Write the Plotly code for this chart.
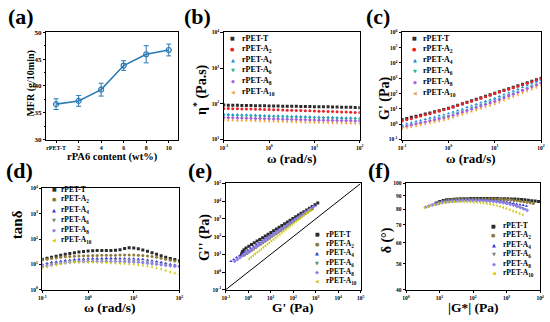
import plotly.graph_objects as go

SERIF = "'Liberation Serif', 'Times New Roman', Times, serif"
W, H = 550, 322
def PX(x): return x / W
def PY(y): return 1 - y / H

# ---------------- data ----------------
# (a) melt flow rate
mfr_labels = ["rPET-T", "2", "4", "6", "8", "10"]
mfr_values = [36.6, 37.2, 39.3, 43.8, 45.9, 46.7]
mfr_err = [1.0, 1.0, 1.2, 0.9, 1.6, 1.1]

series_names = ["rPET-T", "rPET-A<sub>2</sub>", "rPET-A<sub>4</sub>", "rPET-A<sub>6</sub>",
                "rPET-A<sub>8</sub>", "rPET-A<sub>10</sub>"]

omega = [0.1, 0.126, 0.158, 0.2, 0.251, 0.316, 0.398, 0.501, 0.631, 0.794, 1.0, 1.26, 1.58, 2.0,
         2.51, 3.16, 3.98, 5.01, 6.31, 7.94, 10.0, 12.6, 15.8, 20.0, 25.1, 31.6, 39.8, 50.1, 63.1,
         79.4, 100.0]

# (b) complex viscosity
eta_T = [92, 91.5, 91, 90.5, 90, 89.5, 89, 88.5, 88, 87.6, 87.2, 86.8, 86.4, 86, 85.6, 85.2, 84.8, 84.4, 84, 83.6, 83.2, 82.8, 82.4, 82, 81.5, 81, 80.5, 80, 79.5, 79, 78]
eta_A2 = [74, 73.5, 73, 72.5, 72, 71.5, 71, 70.5, 70, 69.4, 68.8, 68.2, 67.6, 67, 66.4, 65.8, 65.2, 64.6, 64, 63.4, 62.8, 62.2, 61.6, 61, 60.4, 59.8, 59.2, 58.6, 58, 57.5, 57]
eta_A4 = [51, 50.6, 50.2, 49.8, 49.4, 49, 48.6, 48.2, 47.8, 47.4, 47, 46.6, 46.2, 45.8, 45.4, 45, 44.6, 44.2, 43.8, 43.4, 43, 42.6, 42.3, 42, 41.7, 41.4, 41.1, 40.8, 40.5, 40.2, 40]
eta_A6 = [47, 46.7, 46.3, 46, 45.6, 45.3, 44.9, 44.6, 44.2, 43.9, 43.5, 43.2, 42.8, 42.5, 42.1, 41.8, 41.4, 41.1, 40.7, 40.4, 40, 39.7, 39.4, 39.1, 38.8, 38.5, 38.2, 37.9, 37.6, 37.3, 37]
eta_A8 = [41, 40.7, 40.4, 40.1, 39.8, 39.5, 39.2, 38.9, 38.6, 38.3, 38, 37.7, 37.4, 37.1, 36.8, 36.5, 36.2, 35.9, 35.6, 35.3, 35, 34.8, 34.6, 34.4, 34.2, 34, 33.8, 33.6, 33.4, 33.2, 33]
eta_A10 = [35, 34.8, 34.5, 34.3, 34, 33.8, 33.5, 33.3, 33, 32.8, 32.5, 32.3, 32, 31.8, 31.5, 31.3, 31, 30.8, 30.5, 30.3, 30, 29.8, 29.6, 29.4, 29.2, 29, 28.8, 28.6, 28.3, 28, 27.5]

# (c) storage modulus
gp_T = [2.0, 2.4, 2.8, 3.3, 3.9, 4.6, 5.5, 6.5, 7.7, 9.2, 11, 13.7, 17.2, 21.6, 27, 34, 42.5, 53, 67, 84, 105, 131, 164, 206, 257, 320, 400, 500, 630, 790, 1000]
gp_A2 = [1.6, 1.93, 2.3, 2.8, 3.4, 4.1, 4.9, 6.0, 7.2, 8.7, 10.5, 13, 16.4, 20.5, 25.7, 32, 40, 50, 63, 79, 100, 125, 156, 195, 244, 305, 380, 475, 595, 745, 930]
gp_A4 = [0.89, 1.06, 1.26, 1.5, 1.78, 2.11, 2.51, 2.99, 3.55, 4.22, 5.01, 6.3, 7.9, 10, 12.6, 15.8, 20, 25.1, 31.6, 39.8, 50.1, 65.7, 86.1, 113, 148, 194, 254, 333, 437, 572, 750]
gp_A6 = [0.6, 0.72, 0.86, 1.03, 1.23, 1.47, 1.76, 2.1, 2.52, 3.01, 3.6, 4.55, 5.77, 7.3, 9.25, 11.7, 14.8, 18.7, 23.7, 30.1, 38, 49.2, 63.7, 82.4, 107, 138, 179, 231, 299, 387, 501]
gp_A8 = [0.65, 0.75, 0.88, 1.03, 1.2, 1.4, 1.63, 1.9, 2.22, 2.59, 3.02, 3.8, 4.79, 6.03, 7.59, 9.55, 12, 15.1, 19.1, 24, 30.2, 39.8, 52.5, 69.2, 91.2, 120, 158, 209, 275, 363, 479]
gp_A10 = [0.5, 0.58, 0.67, 0.78, 0.9, 1.05, 1.21, 1.41, 1.63, 1.89, 2.19, 2.74, 3.44, 4.31, 5.4, 6.76, 8.47, 10.6, 13.3, 16.7, 20.9, 27.5, 36.3, 47.9, 63.1, 83.2, 110, 145, 191, 251, 331]

# (d) loss tangent
td_T = [16, 17.5, 19, 21, 23, 25, 27, 29, 31, 32.5, 34, 34.5, 35, 35, 35, 35, 36, 38, 42, 45, 44, 41, 37, 33, 29, 25, 22, 19, 17, 15.5, 14]
td_A2 = [15, 16, 17, 18, 19, 20, 20.5, 21, 21.5, 22, 22, 22.5, 22.5, 23, 23, 23, 23, 23.5, 23.5, 23.5, 23.5, 23, 22.5, 21.5, 20.5, 19, 17.5, 16, 14.5, 13.5, 12.5]
td_A4 = [10, 11, 12, 12.8, 13.5, 14.2, 15, 15.5, 16, 16.3, 16.6, 17, 17, 17.2, 17.3, 17.3, 17.3, 17.2, 17, 16.8, 16.6, 16.2, 15.8, 15, 14, 13, 12, 11, 10, 9.5, 9]
td_A6 = [9, 10, 10.8, 11.5, 12.2, 12.8, 13.3, 13.8, 14.2, 14.4, 14.5, 14.7, 14.8, 14.8, 14.8, 14.8, 14.7, 14.6, 14.5, 14.3, 14, 13.6, 13, 12.4, 11.8, 11.1, 10.4, 9.8, 9.3, 9, 8.8]
td_A8 = [8, 8.8, 9.6, 10.3, 11, 11.6, 12.1, 12.5, 12.8, 13, 13, 13.1, 13.1, 13.1, 13, 13, 12.9, 12.8, 12.7, 12.5, 12.3, 12, 11.6, 11.1, 10.6, 10.1, 9.6, 9.1, 8.7, 8.3, 8]
td_A10 = [7, 7.8, 8.6, 9.4, 10.2, 11, 11.6, 12, 12.2, 12.2, 12.1, 12, 11.9, 11.7, 11.5, 11.3, 11.1, 10.9, 10.6, 10.3, 10, 9.5, 9, 8.4, 7.8, 7.1, 6.4, 5.7, 5, 4.5, 4]

# (e) Cole-Cole: G' (x) and G'' (y)
ce_gp_T = [0.5, 0.52, 0.56, 0.65, 0.8, 1.06, 1.4, 1.86, 2.47, 3.27, 4.34, 5.75, 7.63, 10.1, 13.4, 17.8, 23.6, 31.3, 41.5, 55, 73, 96.8, 128, 170, 225, 299, 396, 526, 697, 925, 1230]
ce_gpp_T = [9.2, 11.5, 14.4, 18.1, 22.6, 28.3, 35.4, 44.3, 55.5, 69.5, 87.2, 109, 137, 172, 215, 269, 338, 423, 530, 664, 832, 1043, 1302, 1640, 2046, 2560, 3204, 4008, 5016, 6273, 7800]
ce_gp_A2 = [0.7, 0.88, 1.11, 1.4, 1.76, 2.21, 2.79, 3.51, 4.42, 5.56, 7.0, 8.81, 11.1, 14.0, 17.6, 22.1, 27.9, 35.1, 44.2, 55.6, 70, 88.1, 111, 140, 176, 221, 279, 351, 442, 556, 700]
ce_gpp_A2 = [9, 11, 13.5, 16.4, 20.1, 24.5, 29.9, 36.6, 44.7, 54.6, 66.7, 81.4, 99.5, 122, 149, 181, 222, 271, 331, 404, 493, 603, 736, 899, 1098, 1341, 1638, 2000, 2443, 2984, 3645]
ce_gp_A4 = [0.17, 0.227, 0.303, 0.405, 0.54, 0.72, 0.96, 1.29, 1.72, 2.29, 3.06, 4.09, 5.46, 7.29, 9.73, 13.0, 17.3, 23.1, 30.9, 41.2, 55.0, 73.4, 98.0, 131, 175, 233, 311, 416, 555, 741, 989]
ce_gpp_A4 = [4, 5.1, 6.5, 8.3, 10.5, 13.4, 17.1, 21.8, 27.8, 35.4, 45.1, 57.5, 73.3, 93.4, 119, 152, 193, 246, 314, 400, 510, 650, 828, 1055, 1345, 1714, 2184, 2783, 3547, 4520, 5760]
ce_gp_A6 = [0.6, 0.755, 0.95, 1.2, 1.51, 1.9, 2.39, 3.01, 3.79, 4.77, 6.0, 7.55, 9.5, 12.0, 15.1, 19.0, 23.9, 30.1, 37.9, 47.7, 60, 75.5, 95, 120, 151, 190, 239, 301, 379, 477, 600]
ce_gpp_A6 = [9, 11, 13.8, 16.3, 19.9, 24.2, 29.5, 35.9, 43.7, 53.2, 64.8, 78.9, 96.1, 117, 143, 174, 211, 257, 313, 382, 465, 566, 689, 839, 1022, 1245, 1516, 1846, 2248, 2737, 3333]
ce_gp_A8 = [0.25, 0.327, 0.428, 0.56, 0.733, 0.96, 1.26, 1.64, 2.15, 2.82, 3.68, 4.82, 6.31, 8.25, 10.8, 14.1, 18.5, 24.2, 31.6, 41.4, 54.1, 70.8, 92.7, 121, 159, 208, 272, 356, 466, 610, 798]
ce_gpp_A8 = [4, 5.1, 6.4, 8.1, 10.3, 13.0, 16.5, 20.9, 26.5, 33.5, 42.5, 53.8, 68.1, 86.3, 109, 138, 175, 222, 281, 356, 451, 571, 723, 916, 1160, 1469, 1861, 2357, 2985, 3781, 4789]
ce_gp_A10 = [1.1, 1.35, 1.67, 2.05, 2.53, 3.11, 3.83, 4.72, 5.81, 7.16, 8.81, 10.8, 13.4, 16.5, 20.3, 25.0, 30.7, 37.8, 46.6, 57.4, 70.6, 87.0, 107, 132, 162, 200, 246, 303, 373, 460, 566]
ce_gpp_A10 = [5.5, 6.8, 8.4, 10.3, 12.8, 15.8, 19.5, 24.1, 29.7, 36.7, 45.3, 55.9, 69.0, 85.2, 105, 130, 160, 198, 244, 302, 372, 460, 567, 700, 865, 1067, 1318, 1627, 2008, 2479, 3061]
equality_line = [0.1, 100000]

# (f) van Gurp-Palmen: |G*| (x) and phase angle (y)
vg_gs_T = [8, 10.1, 12.8, 16.2, 20.4, 25.8, 32.6, 41.2, 52.1, 65.8, 83.2, 105, 133, 168, 212, 268, 339, 429, 542, 685, 866, 1095, 1384, 1749, 2211, 2795, 3533, 4466, 5645, 7135, 9020]
vg_d_T = [84.5, 85.5, 86.3, 86.8, 87.1, 87.3, 87.5, 87.6, 87.7, 87.7, 87.8, 87.8, 87.8, 87.8, 87.8, 87.8, 87.8, 87.8, 87.8, 87.7, 87.7, 87.6, 87.5, 87.4, 87.2, 87.0, 86.8, 86.5, 86.2, 85.9, 85.5]
vg_gs_A2 = [8.5, 10.6, 13.2, 16.5, 20.5, 25.6, 31.9, 39.8, 49.6, 61.8, 77.0, 96, 120, 149, 186, 232, 289, 360, 449, 560, 698, 870, 1084, 1351, 1684, 2099, 2616, 3261, 4064, 5066, 6314]
vg_d_A2 = [84, 85, 85.8, 86.3, 86.7, 87, 87.2, 87.3, 87.4, 87.4, 87.5, 87.5, 87.5, 87.5, 87.5, 87.5, 87.5, 87.4, 87.4, 87.3, 87.2, 87.1, 86.9, 86.7, 86.4, 86.1, 85.8, 85.4, 85, 84.6, 84.2]
vg_gs_A4 = [4.5, 5.64, 7.07, 8.86, 11.1, 13.9, 17.4, 21.9, 27.4, 34.3, 43.0, 53.9, 67.5, 84.6, 106, 133, 167, 209, 262, 328, 411, 515, 645, 809, 1013, 1270, 1591, 1994, 2499, 3131, 3924]
vg_d_A4 = [82, 83, 84, 84.8, 85.4, 85.9, 86.2, 86.5, 86.7, 86.8, 86.9, 87, 87, 87, 87, 87, 86.9, 86.8, 86.7, 86.6, 86.4, 86.2, 85.9, 85.6, 85.2, 84.8, 84.3, 83.8, 83.3, 82.8, 82.3]
vg_gs_A6 = [8, 9.8, 12.0, 14.7, 18.0, 22.1, 27.1, 33.2, 40.7, 49.9, 61.2, 75.0, 92.0, 113, 138, 169, 208, 255, 312, 383, 469, 575, 705, 865, 1060, 1300, 1594, 1954, 2396, 2937, 3601]
vg_d_A6 = [83.5, 84.5, 85.2, 85.7, 86, 86.2, 86.4, 86.5, 86.6, 86.6, 86.6, 86.6, 86.6, 86.6, 86.5, 86.5, 86.4, 86.3, 86.2, 86, 85.8, 85.5, 85.2, 84.8, 84.3, 83.8, 83.2, 82.5, 81.8, 81, 80.2]
vg_gs_A8 = [3.8, 4.8, 6.06, 7.65, 9.65, 12.2, 15.4, 19.4, 24.5, 30.9, 39.0, 49.2, 62.1, 78.4, 98.9, 125, 158, 199, 251, 317, 400, 505, 637, 804, 1015, 1281, 1617, 2041, 2576, 3251, 4103]
vg_d_A8 = [81.5, 82.3, 83, 83.7, 84.3, 84.8, 85.2, 85.5, 85.8, 86, 86.1, 86.2, 86.3, 86.3, 86.3, 86.3, 86.2, 86.1, 86, 85.8, 85.6, 85.3, 85, 84.6, 84.1, 83.5, 82.8, 82, 81.2, 80.3, 79.3]
vg_gs_A10 = [3.6, 4.5, 5.6, 7.1, 8.9, 11.1, 13.9, 17.4, 21.8, 27.3, 34.2, 42.8, 53.6, 67.1, 84.0, 105, 132, 165, 206, 258, 323, 405, 507, 634, 794, 994, 1245, 1558, 1951, 2442, 3057]
vg_d_A10 = [81, 81.8, 82.6, 83.3, 83.9, 84.4, 84.8, 85.1, 85.3, 85.4, 85.4, 85.4, 85.4, 85.3, 85.2, 85.1, 84.9, 84.7, 84.4, 84.1, 83.7, 83.2, 82.6, 82, 81.3, 80.5, 79.7, 78.9, 78.1, 77.2, 76.3]

# tick labels
mfr_yticks = [30, 35, 40, 45, 50]
b_y_exp = [1, 2, 3, 4]
c_y_exp = [-1, 0, 1, 2, 3, 4, 5, 6]
w_x_exp = [-1, 0, 1, 2]
d_y_exp = [0, 1, 2, 3, 4]
e_exp = [-1, 0, 1, 2, 3, 4, 5]
f_x_exp = [0, 1, 2, 3, 4]
f_yticks = [40, 50, 60, 70, 80, 90, 100]

# ---------------- style ----------------
bc_colors = ["#2b2b2b", "#e8232a", "#1e8fd8", "#1fb58a", "#a35fe0", "#f2a23a"]
def_colors = ["#2b2b2b", "#8c7a38", "#3b3bd6", "#6f8370", "#8f80ea", "#cdcd1c"]
symbols = ["square", "circle", "triangle-up", "triangle-down", "diamond", "triangle-left"]
glyphs = ["\u25A0", "\u25CF", "\u25B2", "\u25BC", "\u25C6", "\u25C0"]
MS = 3

fig = go.Figure()

# (a)
blue_a = "#2a7ab5"
fig.add_trace(go.Scatter(
    x=mfr_labels, y=mfr_values, mode="lines+markers", xaxis="x", yaxis="y",
    line=dict(color=blue_a, width=1.6),
    marker=dict(symbol="circle-open", size=5, color=blue_a, line=dict(width=1.2, color=blue_a)),
    error_y=dict(type="data", array=mfr_err, color=blue_a, thickness=1, width=2.5),
    showlegend=False))

eta_sets = [eta_T, eta_A2, eta_A4, eta_A6, eta_A8, eta_A10]
gp_sets = [gp_T, gp_A2, gp_A4, gp_A6, gp_A8, gp_A10]
td_sets = [td_T, td_A2, td_A4, td_A6, td_A8, td_A10]
ce_sets = [(ce_gp_T, ce_gpp_T), (ce_gp_A2, ce_gpp_A2), (ce_gp_A4, ce_gpp_A4),
           (ce_gp_A6, ce_gpp_A6), (ce_gp_A8, ce_gpp_A8), (ce_gp_A10, ce_gpp_A10)]
vg_sets = [(vg_gs_T, vg_d_T), (vg_gs_A2, vg_d_A2), (vg_gs_A4, vg_d_A4),
           (vg_gs_A6, vg_d_A6), (vg_gs_A8, vg_d_A8), (vg_gs_A10, vg_d_A10)]

def mk(color, sym):
    return dict(symbol=sym, size=MS, color=color, line=dict(width=0))

for i in range(6):
    fig.add_trace(go.Scatter(x=omega, y=eta_sets[i], mode="markers", xaxis="x2", yaxis="y2",
                             marker=mk(bc_colors[i], symbols[i]), name=series_names[i], showlegend=False))
    fig.add_trace(go.Scatter(x=omega, y=gp_sets[i], mode="markers", xaxis="x3", yaxis="y3",
                             marker=mk(bc_colors[i], symbols[i]), name=series_names[i], showlegend=False))
    fig.add_trace(go.Scatter(x=omega, y=td_sets[i], mode="markers", xaxis="x4", yaxis="y4",
                             marker=mk(def_colors[i], symbols[i]), name=series_names[i], showlegend=False))
    fig.add_trace(go.Scatter(x=ce_sets[i][0], y=ce_sets[i][1], mode="markers", xaxis="x5", yaxis="y5",
                             marker=mk(def_colors[i], symbols[i]), name=series_names[i], showlegend=False))
    fig.add_trace(go.Scatter(x=vg_sets[i][0], y=vg_sets[i][1], mode="markers", xaxis="x6", yaxis="y6",
                             marker=mk(def_colors[i], symbols[i]), name=series_names[i], showlegend=False))

fig.add_trace(go.Scatter(x=equality_line, y=equality_line, mode="lines", xaxis="x5", yaxis="y5",
                         line=dict(color="black", width=1), showlegend=False, hoverinfo="skip"))

# ---------------- axes ----------------
TICKFONT = dict(family=SERIF, size=5.5, color="black", weight="bold")

def ax(domain, anchor, **kw):
    d = dict(domain=domain, anchor=anchor, showline=True, linecolor="black", linewidth=1, mirror=True,
             ticks="outside", ticklen=2.5, tickwidth=1, tickcolor="black", showgrid=False,
             zeroline=False, tickfont=TICKFONT)
    d.update(kw)
    return d

def pw(e):
    return "10<sup>%d</sup>" % e

def logax(domain, anchor, exps):
    return ax(domain, anchor, type="log", range=[exps[0], exps[-1]],
              tickvals=[10.0 ** e for e in exps], ticktext=[pw(e) for e in exps])

top_y = [PY(139), PY(29)]
bot_y = [PY(293), PY(184)]

fig.update_layout(
    xaxis=ax([PX(43), PX(177)], "y", type="category", range=[-0.43, 5.43],
             tickfont=dict(TICKFONT, size=6)),
    yaxis=ax(top_y, "x", range=[30, 50], tickvals=mfr_yticks, tickfont=dict(TICKFONT, size=7),
             minor=dict(ticks="outside", ticklen=1.5, dtick=2.5, tickcolor="black")),
    xaxis2=logax([PX(223), PX(361)], "y2", w_x_exp),
    yaxis2=logax(top_y, "x2", b_y_exp),
    xaxis3=logax([PX(404), PX(545)], "y3", w_x_exp),
    yaxis3=logax(top_y, "x3", c_y_exp),
    xaxis4=logax([PX(39), PX(178)], "y4", w_x_exp),
    yaxis4=logax([PY(293), PY(189)], "x4", d_y_exp),
    xaxis5=logax([PX(225), PX(362)], "y5", e_exp),
    yaxis5=logax(bot_y, "x5", e_exp),
    xaxis6=logax([PX(408), PX(544)], "y6", f_x_exp),
    yaxis6=ax(bot_y, "x6", type="log", range=[1.60206, 2.0], tickvals=f_yticks),
)

# ---------------- text ----------------
def note(x, y, text, size, angle=0, xanchor="center", color="black", family=SERIF, bold=True):
    fig.add_annotation(x=PX(x), y=PY(y), xref="paper", yref="paper", text=text, showarrow=False,
                       textangle=angle, xanchor=xanchor, yanchor="middle", borderpad=0,
                       font=dict(family=family, size=size, color=color,
                                 weight="bold" if bold else "normal"))

# panel labels
for lab, x, y in [("(a)", 17, 13), ("(b)", 196, 13), ("(c)", 380, 13),
                  ("(d)", 16, 171), ("(e)", 199, 171), ("(f)", 381, 171)]:
    note(x, y, lab, 22)

# axis titles
note(110, 157, "rPA6 content (wt%)", 10.5)
note(27, 82, "MFR (g/10min)", 10, angle=-90)
note(292, 158, "\u03c9 (rad/s)", 13)
note(200, 88, "\u03b7<sup>*</sup> (Pa.s)", 14, angle=-90)
note(474, 158, "\u03c9 (rad/s)", 13)
note(386, 97, "G' (Pa)", 14, angle=-90)
note(108, 311, "\u03c9 (rad/s)", 13.5)
note(14, 226, "tan\u03b4", 15, angle=-90)
note(293, 311, "G' (Pa)", 13.5)
note(204, 240, "G'' (Pa)", 14, angle=-90)
note(476, 311, "|G*| (Pa)", 13.5)
note(389, 242, "\u03b4 (\u00b0)", 14, angle=-90)

# legends
def legend(sym_x, txt_x, y0, dy, colors, size):
    for i in range(6):
        y = y0 + i * dy
        note(sym_x, y, glyphs[i], 5, color=colors[i], family="DejaVu Sans", bold=False)
        note(txt_x, y, series_names[i], size, xanchor="left")

legend(232, 240, 35, 11, bc_colors, 8)
legend(417, 424, 35, 11.3, bc_colors, 8)
legend(51, 57, 190, 10.4, def_colors, 7.5)
legend(318, 326, 236, 9.7, def_colors, 7.5)
legend(497, 505, 227.5, 9.7, def_colors, 7.5)

fig.update_layout(width=W, height=H, margin=dict(l=0, r=0, t=0, b=0), autosize=False,
                  plot_bgcolor="white", paper_bgcolor="white", showlegend=False)

fig.write_html("out.html", config={"displayModeBar": False},
               post_script="document.body.style.margin='0px';")
